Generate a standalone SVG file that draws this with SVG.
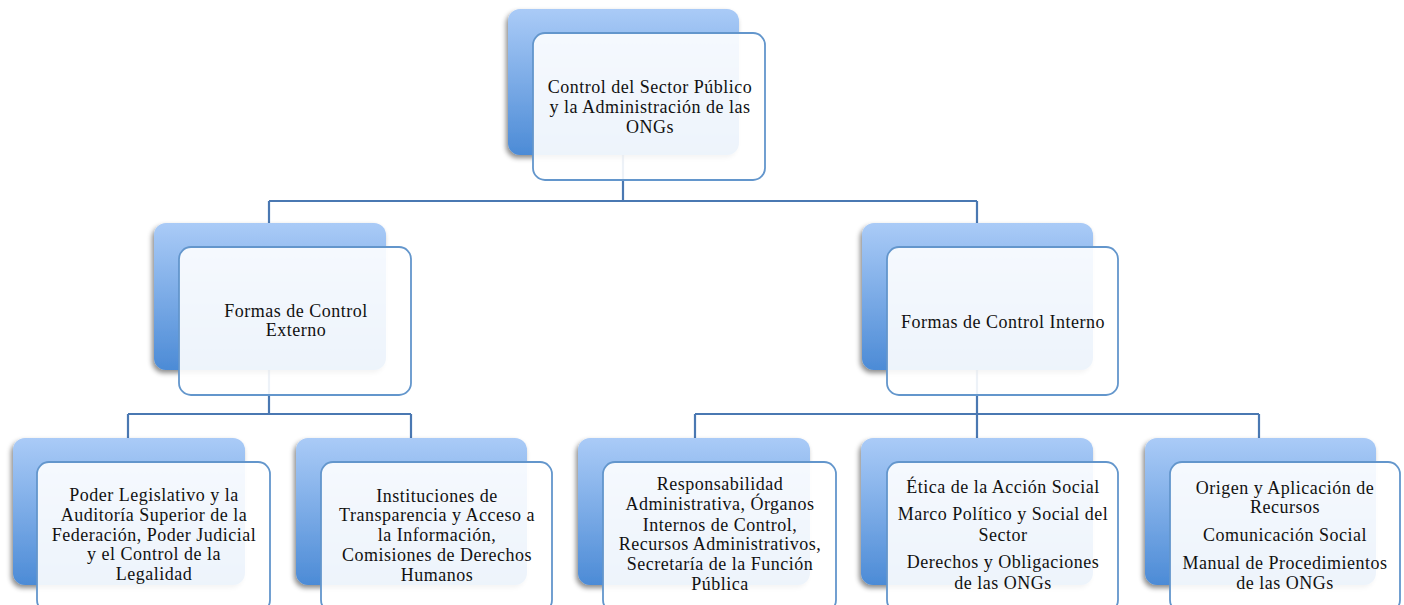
<svg xmlns="http://www.w3.org/2000/svg" width="1404" height="605" viewBox="0 0 1404 605">
<defs>
<linearGradient id="bg" x1="0" y1="0" x2="0" y2="1">
<stop offset="0" stop-color="#aacbf7"/>
<stop offset="1" stop-color="#4c8bd6"/>
</linearGradient>
<filter id="sh" x="-20%" y="-20%" width="140%" height="140%">
<feDropShadow dx="-2" dy="3" stdDeviation="2.5" flood-color="#000" flood-opacity="0.45"/>
</filter>
</defs>
<style>
.back{fill:url(#bg);filter:url(#sh)}
.front{fill:#ffffff;fill-opacity:0.9;stroke:#6396cc;stroke-width:1.8}
.conn{fill:none;stroke:#4a78b2;stroke-width:2.2}
text{font-family:"Liberation Serif","Times New Roman",serif;font-size:18px;letter-spacing:0.5px;fill:#111;text-anchor:middle}
</style>
<rect width="1404" height="605" fill="#ffffff"/>
<g id="connectors">
<path class="conn" d="M623,150 V201 M269,201 H977 M269,201 V235 M977,201 V235"/>
<path class="conn" d="M269,360 V414 M128,414 H411 M128,414 V445 M411,414 V445"/>
<path class="conn" d="M977,360 V414 M695,414 H1259 M695,414 V445 M977,414 V445 M1259,414 V445"/>
</g>
<g id="n-root">
<rect class="back" x="508" y="9" width="231" height="146" rx="12"/>
<rect class="front" x="533" y="33" width="232" height="147" rx="12"/>
<text x="650" y="93">Control del Sector Público</text>
<text x="650" y="113">y la Administración de las</text>
<text x="650" y="133">ONGs</text>
</g>
<g id="n-externo">
<rect class="back" x="154" y="223" width="232" height="147" rx="12"/>
<rect class="front" x="179" y="247" width="232" height="148" rx="12"/>
<text x="296" y="317">Formas de Control</text>
<text x="296" y="336">Externo</text>
</g>
<g id="n-interno">
<rect class="back" x="862" y="223" width="231" height="147" rx="12"/>
<rect class="front" x="887" y="247" width="231" height="148" rx="12"/>
<text x="1003" y="328">Formas de Control Interno</text>
</g>
<g id="n-legislativo">
<rect class="back" x="13" y="438" width="232" height="147" rx="12"/>
<rect class="front" x="37" y="462" width="233" height="150" rx="12"/>
<text x="154" y="501">Poder Legislativo y la</text>
<text x="154" y="521">Auditoría Superior de la</text>
<text x="154" y="541">Federación, Poder Judicial</text>
<text x="154" y="560">y el Control de la</text>
<text x="154" y="580">Legalidad</text>
</g>
<g id="n-transparencia">
<rect class="back" x="296" y="438" width="231" height="147" rx="12"/>
<rect class="front" x="321" y="462" width="231" height="150" rx="12"/>
<text x="437" y="502">Instituciones de</text>
<text x="437" y="521">Transparencia y Acceso a</text>
<text x="437" y="541">la Información,</text>
<text x="437" y="561">Comisiones de Derechos</text>
<text x="437" y="581">Humanos</text>
</g>
<g id="n-responsabilidad">
<rect class="back" x="578" y="438" width="232" height="147" rx="12"/>
<rect class="front" x="603" y="462" width="233" height="150" rx="12"/>
<text x="720" y="490">Responsabilidad</text>
<text x="720" y="510">Administrativa, Órganos</text>
<text x="720" y="531">Internos de Control,</text>
<text x="720" y="550">Recursos Administrativos,</text>
<text x="720" y="570">Secretaría de la Función</text>
<text x="720" y="590">Pública</text>
</g>
<g id="n-etica">
<rect class="back" x="861" y="438" width="232" height="147" rx="12"/>
<rect class="front" x="887" y="462" width="231" height="150" rx="12"/>
<text x="1003" y="493">Ética de la Acción Social</text>
<text x="1003" y="520">Marco Político y Social del</text>
<text x="1003" y="541">Sector</text>
<text x="1003" y="568">Derechos y Obligaciones</text>
<text x="1003" y="589">de las ONGs</text>
</g>
<g id="n-origen">
<rect class="back" x="1145" y="438" width="231" height="147" rx="12"/>
<rect class="front" x="1170" y="462" width="230" height="150" rx="12"/>
<text x="1285" y="494">Origen y Aplicación de</text>
<text x="1285" y="513">Recursos</text>
<text x="1285" y="541">Comunicación Social</text>
<text x="1285" y="569">Manual de Procedimientos</text>
<text x="1285" y="589">de las ONGs</text>
</g>
</svg>
